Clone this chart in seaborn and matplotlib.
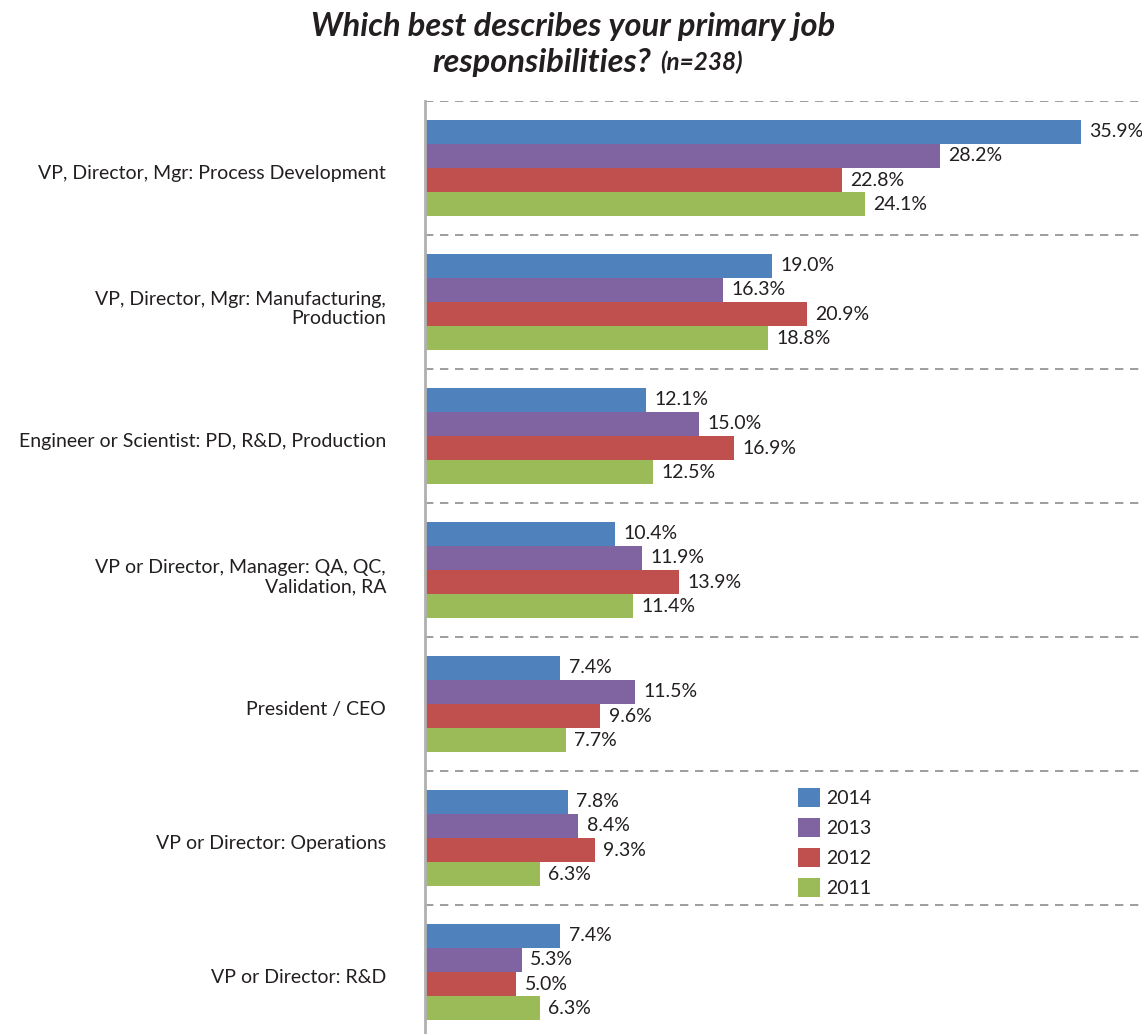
import matplotlib
matplotlib.use("Agg")
import matplotlib.pyplot as plt
import matplotlib.transforms as mtransforms
import seaborn as sns
import pandas as pd

categories = [
    "VP, Director, Mgr: Process Development",
    "VP, Director, Mgr: Manufacturing,\nProduction",
    "Engineer or Scientist: PD, R&D, Production",
    "VP or Director, Manager: QA, QC,\nValidation, RA",
    "President / CEO",
    "VP or Director: Operations",
    "VP or Director: R&D",
]
years = ["2014", "2013", "2012", "2011"]
v2014 = [35.9, 19.0, 12.1, 10.4, 7.4, 7.8, 7.4]
v2013 = [28.2, 16.3, 15.0, 11.9, 11.5, 8.4, 5.3]
v2012 = [22.8, 20.9, 16.9, 13.9, 9.6, 9.3, 5.0]
v2011 = [24.1, 18.8, 12.5, 11.4, 7.7, 6.3, 6.3]
colors = ["#4F81BD", "#8064A2", "#C0504D", "#9BBB59"]

series = {"2014": v2014, "2013": v2013, "2012": v2012, "2011": v2011}
rows = []
for y in years:
    for c, v in zip(categories, series[y]):
        rows.append({"category": c, "year": y, "value": v})
df = pd.DataFrame(rows)

sns.set_theme(style="white")
plt.rcParams["font.family"] = ["Lato", "DejaVu Sans"]
TXT = "#231F20"

W, H = 1142, 1034
fig = plt.figure(figsize=(W / 100, H / 100), dpi=100)
ax = fig.add_axes([425 / W, 0, (1140 - 425) / W, 1 - 101 / H])

sns.barplot(data=df, y="category", x="value", hue="year", order=categories,
            hue_order=years, palette=colors, orient="h", width=0.72,
            errorbar=None, saturation=1, linewidth=0, edgecolor="none",
            ax=ax, legend=True)

band_px = 134.0
ax_h_px = H - 101
ax.set_ylim(-0.5 + ax_h_px / band_px, -0.5)
ax.set_xlim(0, (1140 - 425) / 18.27)

for i in range(len(categories)):
    ax.axhline(i - 0.5, color="#8C8C8C", lw=1.2, ls=(0, (5, 4)), zorder=0)

for cont in ax.containers:
    ax.bar_label(cont, fmt="%.1f%%", padding=6, fontsize=14, color=TXT)

ax.set_xlabel("")
ax.set_ylabel("")
ax.set_xticks([])
ax.tick_params(axis="y", length=0, pad=28, labelsize=14, labelcolor=TXT)
shift = mtransforms.ScaledTranslation(0, -4 / 100, fig.dpi_scale_trans)
for lbl in ax.get_yticklabels():
    lbl.set_transform(lbl.get_transform() + shift)
for s in ["top", "right", "bottom"]:
    ax.spines[s].set_visible(False)
ax.spines["left"].set_color("#B0B0B0")
ax.spines["left"].set_linewidth(2)

handles, labels = ax.get_legend_handles_labels()
ax.legend(handles, labels, loc="upper left",
          bbox_to_anchor=(788 / W, 1 - 778 / H), bbox_transform=fig.transFigure,
          frameon=False, borderpad=0, handlelength=1.15, handleheight=1.15,
          labelspacing=0.55, handletextpad=0.3, fontsize=14, labelcolor=TXT)

fig.text(573 / W, 1 - 36 / H, "Which best describes your primary job",
         ha="center", va="baseline", fontsize=23.5, fontweight="bold",
         fontstyle="italic", color=TXT)
fig.text(651 / W, 1 - 72 / H, "responsibilities?", ha="right", va="baseline",
         fontsize=23.5, fontweight="bold", fontstyle="italic", color=TXT)
fig.text(660 / W, 1 - 70 / H, "(n=238)", ha="left", va="baseline",
         fontsize=17.5, fontweight="bold", fontstyle="italic", color=TXT)

fig.savefig("out.png", dpi=100)
